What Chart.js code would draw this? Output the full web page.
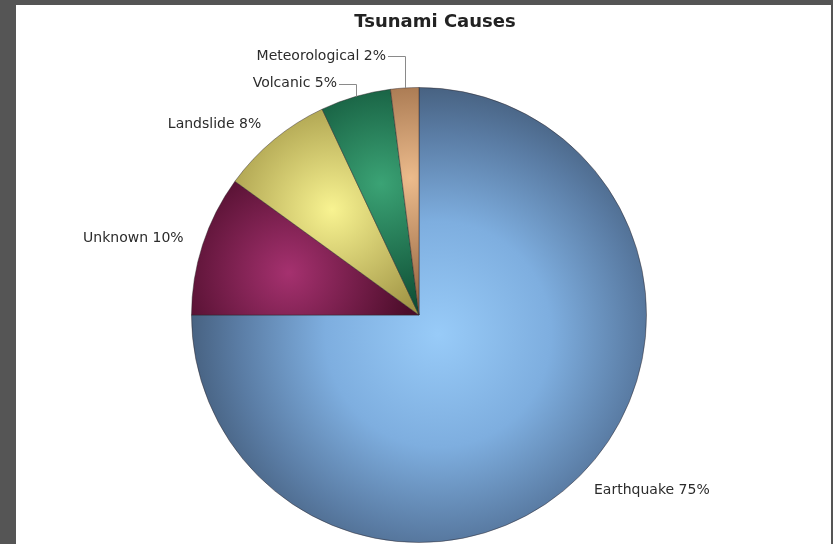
<!DOCTYPE html>
<html>
<head>
<meta charset="utf-8">
<script src="https://cdn.jsdelivr.net/npm/chart.js@4/dist/chart.umd.min.js"></script>
<style>
  body { margin: 0; background: #555555; }
  canvas { display: block; }
</style>
</head>
<body>
<canvas id="myChart" width="833" height="544"></canvas>
<script>
// data for the tsunami causes pie
const causes = ['Earthquake', 'Unknown', 'Landslide', 'Volcanic', 'Meteorological'];
const percents = [75, 10, 8, 5, 2];
const chartTitle = 'Tsunami Causes';

// shading colours, light (inner) and dark (rim)
const lightColors = ['#98cbf8', '#a5316f', '#f8f391', '#3ba375', '#ecbb8c'];
const darkColors = ['#46607f', '#4c0d2a', '#a19545', '#0f5036', '#946540'];

// how far the small labels get lifted along their leader lines
const leaderRise = [0, 0, 0, 5, 24];

function sliceGradient(context){
    const chart = context.chart;
    const area = chart.chartArea;
    const i = context.dataIndex;
    if(!area){
        return lightColors[i];
    }
    const cx = (area.left + area.right) / 2;
    const cy = (area.top + area.bottom) / 2;
    const r = Math.min(area.right - area.left, area.bottom - area.top) / 2;
    const total = percents.reduce((a, b) => a + b, 0);
    let before = 0;
    for(let j = 0; j < i; j++) before += percents[j];
    const mid = -Math.PI / 2 + (before + percents[i] / 2) / total * Math.PI * 2;
    const ctx = chart.ctx;
    let g;
    if(percents[i] > 50){
        const gx = cx + Math.cos(mid) * r * 0.12;
        const gy = cy + Math.sin(mid) * r * 0.12;
        g = ctx.createRadialGradient(gx, gy, 0, gx, gy, r * 1.1);
        g.addColorStop(0, lightColors[i]);
        g.addColorStop(0.45, '#7eaedf');
        g.addColorStop(0.8, '#5a7ca4');
        g.addColorStop(1, darkColors[i]);
    } else {
        const gx = cx + Math.cos(mid) * r * 0.6;
        const gy = cy + Math.sin(mid) * r * 0.6;
        g = ctx.createRadialGradient(gx, gy, 0, gx, gy, r * 0.55);
        g.addColorStop(0, lightColors[i]);
        g.addColorStop(1, darkColors[i]);
    }
    return g;
}

const panelPlugin = {
    id: 'panel',
    beforeDraw(chart){
        const ctx = chart.ctx;
        ctx.save();
        ctx.fillStyle = '#555555';
        ctx.fillRect(0, 0, chart.width, chart.height);
        ctx.fillStyle = '#ffffff';
        ctx.fillRect(16, 5, 815, chart.height - 5);
        ctx.fillStyle = '#222222';
        ctx.font = 'bold 18px "DejaVu Sans"';
        ctx.textAlign = 'center';
        ctx.textBaseline = 'middle';
        ctx.fillText(chartTitle, 435, 22);
        ctx.restore();
    }
};

const labelPlugin = {
    id: 'sliceLabels',
    afterDatasetsDraw(chart){
        const ctx = chart.ctx;
        const meta = chart.getDatasetMeta(0);
        ctx.save();
        ctx.font = '14px "DejaVu Sans"';
        ctx.fillStyle = '#2b2b2b';
        ctx.strokeStyle = '#8a8a8a';
        ctx.lineWidth = 1;
        ctx.textBaseline = 'middle';
        meta.data.forEach((arc, i) => {
            const mid = (arc.startAngle + arc.endAngle) / 2;
            const dx = Math.cos(mid);
            const dy = Math.sin(mid);
            const text = causes[i] + ' ' + percents[i] + '%';
            if(leaderRise[i] > 0){
                const ax = arc.x + dx * arc.outerRadius;
                const ay = arc.y + dy * arc.outerRadius;
                const ty = ay - leaderRise[i] - 8;
                ctx.beginPath();
                ctx.moveTo(Math.round(ax) + 0.5, ay);
                ctx.lineTo(Math.round(ax) + 0.5, Math.round(ty) + 0.5);
                ctx.lineTo(Math.round(ax) - 17, Math.round(ty) + 0.5);
                ctx.stroke();
                ctx.textAlign = 'right';
                ctx.fillText(text, Math.round(ax) - 19, ty);
            } else {
                const lx = arc.x + dx * (arc.outerRadius + 20);
                const ly = arc.y + dy * (arc.outerRadius + 20);
                ctx.textAlign = dx < 0 ? 'right' : 'left';
                ctx.fillText(text, lx, ly);
            }
        });
        ctx.restore();
    }
};

const ctx = document.getElementById('myChart').getContext('2d');
const myChart = new Chart(ctx, {
    type: 'pie',
    data: {
        labels: causes,
        datasets: [{
            data: percents,
            backgroundColor: sliceGradient,
            borderColor: 'rgba(45, 35, 40, 0.45)',
            borderWidth: 1,
            hoverOffset: 0
        }]
    },
    options: {
        responsive: false,
        animation: false,
        layout: {
            padding: { left: 191, right: 186, top: 87, bottom: 1 }
        },
        plugins: {
            legend: { display: false },
            tooltip: { enabled: false },
            title: { display: false }
        }
    },
    plugins: [panelPlugin, labelPlugin]
});
</script>
</body>
</html>
